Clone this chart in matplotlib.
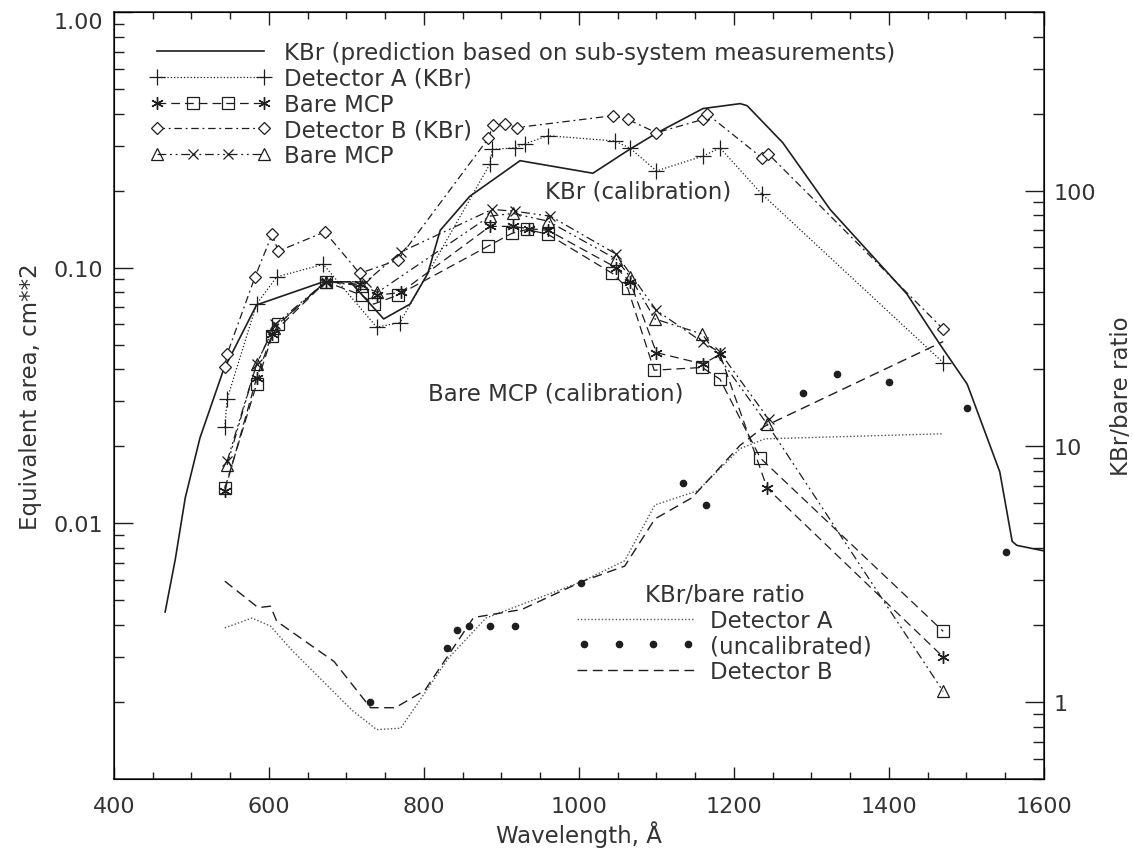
"""Equivalent area of detectors vs wavelength, with KBr/bare ratio on the right axis."""
import matplotlib
matplotlib.use("Agg")
import matplotlib.pyplot as plt
from matplotlib.lines import Line2D
from matplotlib.legend_handler import HandlerLine2D
from matplotlib.ticker import LogLocator, AutoMinorLocator, NullFormatter

plt.rcParams['font.family'] = ['DejaVu Sans']
INK = '#1e1e1e'
TXT = '#333333'
FS = 16.5      # annotation / legend text
FS_TICK = 16

# KBr prediction based on sub-system measurements (solid)
pred_wl = [466, 479, 492, 511, 541, 584, 670, 705, 748, 782, 805, 821, 859, 924,
           1018, 1066, 1101, 1160, 1208, 1217, 1263, 1324, 1423, 1466, 1501, 1543,
           1559, 1565, 1600]
pred_area = [0.0045, 0.0072, 0.0126, 0.0216, 0.0396, 0.0715, 0.088, 0.088, 0.063,
             0.072, 0.095, 0.14, 0.19, 0.262, 0.234, 0.291, 0.337, 0.419, 0.438,
             0.43, 0.308, 0.169, 0.079, 0.050, 0.035, 0.0159, 0.0085, 0.0082, 0.0078]

# Detector A (KBr), plus markers, dotted
deta_wl = [543, 546, 584, 610, 670, 739, 769, 885, 888, 917, 930, 960, 1046, 1066,
           1100, 1160, 1182, 1236, 1470]
deta_area = [0.0237, 0.0306, 0.072, 0.092, 0.103, 0.0585, 0.061, 0.254, 0.29, 0.294,
             0.305, 0.328, 0.313, 0.293, 0.239, 0.273, 0.294, 0.194, 0.0425]

# Detector B (KBr), diamonds, dash-dot
detb_wl = [543, 546, 582, 604, 612, 672, 717, 766, 883, 889, 905, 920, 1044, 1063,
           1100, 1160, 1165, 1236, 1244, 1470]
detb_area = [0.0408, 0.0459, 0.092, 0.135, 0.116, 0.138, 0.095, 0.107, 0.32, 0.36,
             0.366, 0.353, 0.393, 0.38, 0.337, 0.38, 0.40, 0.269, 0.279, 0.0575]

# Bare MCP for detector A: squares and asterisks, dashed
sq_wl = [543, 584, 604, 612, 673, 720, 735, 766, 882, 913, 933, 960, 1043, 1063,
         1097, 1159, 1182, 1234, 1470]
sq_area = [0.0137, 0.035, 0.054, 0.060, 0.088, 0.078, 0.072, 0.078, 0.121, 0.136,
           0.141, 0.135, 0.095, 0.083, 0.0397, 0.0407, 0.0366, 0.018, 0.00378]
st_wl = [543, 584, 604, 673, 718, 740, 770, 885, 915, 935, 960, 1048, 1066, 1100,
         1160, 1182, 1243, 1470]
st_area = [0.0134, 0.037, 0.055, 0.088, 0.086, 0.078, 0.080, 0.145, 0.145, 0.142,
           0.140, 0.10, 0.088, 0.0465, 0.042, 0.0458, 0.0137, 0.0030]

# Bare MCP for detector B: triangles and crosses, dash-dot-dot
tri_wl = [546, 584, 606, 673, 720, 740, 885, 915, 960, 1048, 1066, 1098, 1159, 1243, 1470]
tri_area = [0.0169, 0.042, 0.058, 0.088, 0.085, 0.080, 0.159, 0.163, 0.152, 0.108,
            0.092, 0.063, 0.055, 0.0244, 0.0022]
crs_wl = [546, 584, 608, 673, 725, 770, 888, 918, 963, 1048, 1100, 1160, 1182, 1245]
crs_area = [0.0175, 0.042, 0.060, 0.088, 0.088, 0.115, 0.169, 0.166, 0.159, 0.113,
            0.068, 0.051, 0.0466, 0.0255]

# KBr/bare ratio (right axis)
ratio_a_wl = [543, 578, 602, 630, 707, 739, 770, 832, 880, 1005, 1059, 1098, 1153,
              1208, 1240, 1470]
ratio_a = [1.95, 2.13, 1.98, 1.59, 0.93, 0.78, 0.79, 1.49, 2.13, 2.97, 3.57, 5.9, 6.7,
           9.8, 10.7, 11.2]
ratio_b_wl = [543, 586, 602, 610, 684, 731, 763, 801, 864, 926, 1005, 1059, 1098,
              1146, 1208, 1240, 1470]
ratio_b = [2.97, 2.34, 2.37, 2.07, 1.44, 0.95, 0.95, 1.11, 2.14, 2.3, 2.97, 3.4, 5.2,
           6.3, 10.1, 12.0, 25.7]
ratio_unc_wl = [731, 830, 843, 858, 885, 917, 1003, 1134, 1164, 1289, 1333, 1400, 1501, 1551]
ratio_unc = [1.0, 1.62, 1.91, 1.98, 1.98, 1.98, 2.93, 7.2, 5.9, 16.1, 19.1, 17.9, 14.1, 3.86]


class HandlerMarkEvery(HandlerLine2D):
    """Legend line whose markers sit only on some of the points."""
    def __init__(self, every, **kw):
        super().__init__(**kw)
        self.every = every

    def create_artists(self, *args, **kw):
        arts = super().create_artists(*args, **kw)
        for a in arts:
            a.set_markevery(self.every)
        return arts


DASH = (0, (7, 4))
DASHDOT = (0, (6, 3, 1.5, 3))
DASHDOTDOT = (0, (7, 3, 1.5, 3, 1.5, 3))

fig = plt.figure(figsize=(11.33, 8.53), dpi=100)
ax = fig.add_axes([0.1006, 0.0856, 0.8208, 0.8992])

common = dict(color=INK, lw=0.9)
h_pred, = ax.plot(pred_wl, pred_area, '-', color=INK, lw=1.2)
h_a, = ax.plot(deta_wl, deta_area, linestyle=':', marker='+', ms=11, mew=0.9, **common)
h_b, = ax.plot(detb_wl, detb_area, linestyle=DASHDOT, marker='D', ms=6, mfc='white',
               mew=0.9, **common)
ax.plot(sq_wl, sq_area, linestyle=DASH, marker='s', ms=8, mfc='none', mew=0.9, **common)
ax.plot(st_wl, st_area, linestyle=DASH, marker=(6, 2, 0), ms=9, mew=1.0, **common)
ax.plot(tri_wl, tri_area, linestyle=DASHDOTDOT, marker='^', ms=8, mfc='none', mew=0.9, **common)
ax.plot(crs_wl, crs_area, linestyle=DASHDOTDOT, marker='x', ms=7, mew=0.9, **common)

ax.set_xlim(400, 1600)
ax.set_yscale('log')
ax.set_ylim(1e-3, 1.0)
ax.set_yticks([0.01, 0.1, 1.0])
ax.set_yticklabels(['0.01', '0.10', '1.00'])
ax.yaxis.set_minor_locator(LogLocator(base=10, subs=range(2, 10)))
ax.yaxis.set_minor_formatter(NullFormatter())
ax.set_xticks(range(400, 1601, 200))
ax.xaxis.set_minor_locator(AutoMinorLocator(4))
ax.tick_params(which='both', direction='in', top=True, right=False, labelsize=FS_TICK,
               labelcolor=TXT, color=INK)
ax.tick_params(axis='y', which='major', length=14, width=1, pad=8)
ax.tick_params(axis='y', which='minor', length=7, width=1)
ax.tick_params(axis='x', which='major', length=9, width=1, pad=12)
ax.tick_params(axis='x', which='minor', length=5, width=1)
ax.get_yticklabels()[2].set_verticalalignment('top')
for s in ax.spines.values():
    s.set_linewidth(1.1)
    s.set_color(INK)
ax.set_xlabel('Wavelength, Å', fontsize=FS, color=TXT, labelpad=3)
ax.set_ylabel('Equivalent area, cm**2', fontsize=FS, color=TXT, labelpad=8)

ax.text(1076, 0.2, 'KBr (calibration)', fontsize=FS, color=TXT,
        ha='center', va='center')
ax.text(970, 0.0324, 'Bare MCP (calibration)', fontsize=FS, color=TXT,
        ha='center', va='center')

ax2 = ax.twinx()
ax2.set_position(ax.get_position())
h_ra, = ax2.plot(ratio_a_wl, ratio_a, linestyle=(0, (1, 1.5)), color='#555555', lw=1.0)
h_rb, = ax2.plot(ratio_b_wl, ratio_b, linestyle=DASH, color=INK, lw=1.0)
h_ru, = ax2.plot(ratio_unc_wl, ratio_unc, linestyle='none', marker='o', ms=4.5, color=INK)
ax2.set_yscale('log')
ax2.set_ylim(0.5, 500)
ax2.set_yticks([1, 10, 100])
ax2.set_yticklabels(['1', '10', '100'])
ax2.yaxis.set_minor_locator(LogLocator(base=10, subs=range(2, 10)))
ax2.yaxis.set_minor_formatter(NullFormatter())
ax2.tick_params(which='both', direction='in', labelsize=FS_TICK, labelcolor=TXT, color=INK)
ax2.tick_params(which='major', length=14, width=1, pad=7)
ax2.tick_params(which='minor', length=8, width=1)
ax2.set_ylabel('KBr/bare ratio', fontsize=FS, color=TXT, labelpad=10)

# legend proxies for the two-marker Bare MCP entries
st_px = Line2D([], [], linestyle='none', marker=(6, 2, 0), ms=9, mew=1.0, color=INK)
sq_px = Line2D([], [], linestyle=DASH, marker='s', ms=8, mfc='none', mew=0.9, **common)
tri_px = Line2D([], [], linestyle='none', marker='^', ms=8, mfc='none', mew=0.9, color=INK)
crs_px = Line2D([], [], linestyle=DASHDOTDOT, marker='x', ms=7, mew=0.9, **common)

leg1 = ax2.legend(
    [h_pred, h_a, (sq_px, st_px), h_b, (crs_px, tri_px)],
    ['KBr (prediction based on sub-system measurements)', 'Detector A (KBr)',
     'Bare MCP', 'Detector B (KBr)', 'Bare MCP'],
    handler_map={st_px: HandlerMarkEvery([0, 3], numpoints=4),
                 sq_px: HandlerMarkEvery([1, 2], numpoints=4),
                 tri_px: HandlerMarkEvery([0, 3], numpoints=4),
                 crs_px: HandlerMarkEvery([1, 2], numpoints=4)},
    loc='upper left', bbox_to_anchor=(0.039, 0.962), frameon=False, fontsize=FS,
    handlelength=5.25, handletextpad=0.57, labelspacing=0.12, borderpad=0,
    borderaxespad=0, numpoints=2, labelcolor=TXT)
ax2.add_artist(leg1)

leg2 = ax2.legend(
    [h_ra, h_ru, h_rb], ['Detector A', '(uncalibrated)', 'Detector B'],
    handler_map={h_ru: HandlerLine2D(numpoints=4)},
    title='KBr/bare ratio', title_fontsize=FS,
    loc='upper left', bbox_to_anchor=(0.498, 0.2555), frameon=False, fontsize=FS,
    handlelength=5.15, handletextpad=0.65, labelspacing=0.12, borderpad=0,
    borderaxespad=0, labelcolor=TXT)
leg2.get_title().set_color(TXT)

fig.savefig('out.png', dpi=100)
